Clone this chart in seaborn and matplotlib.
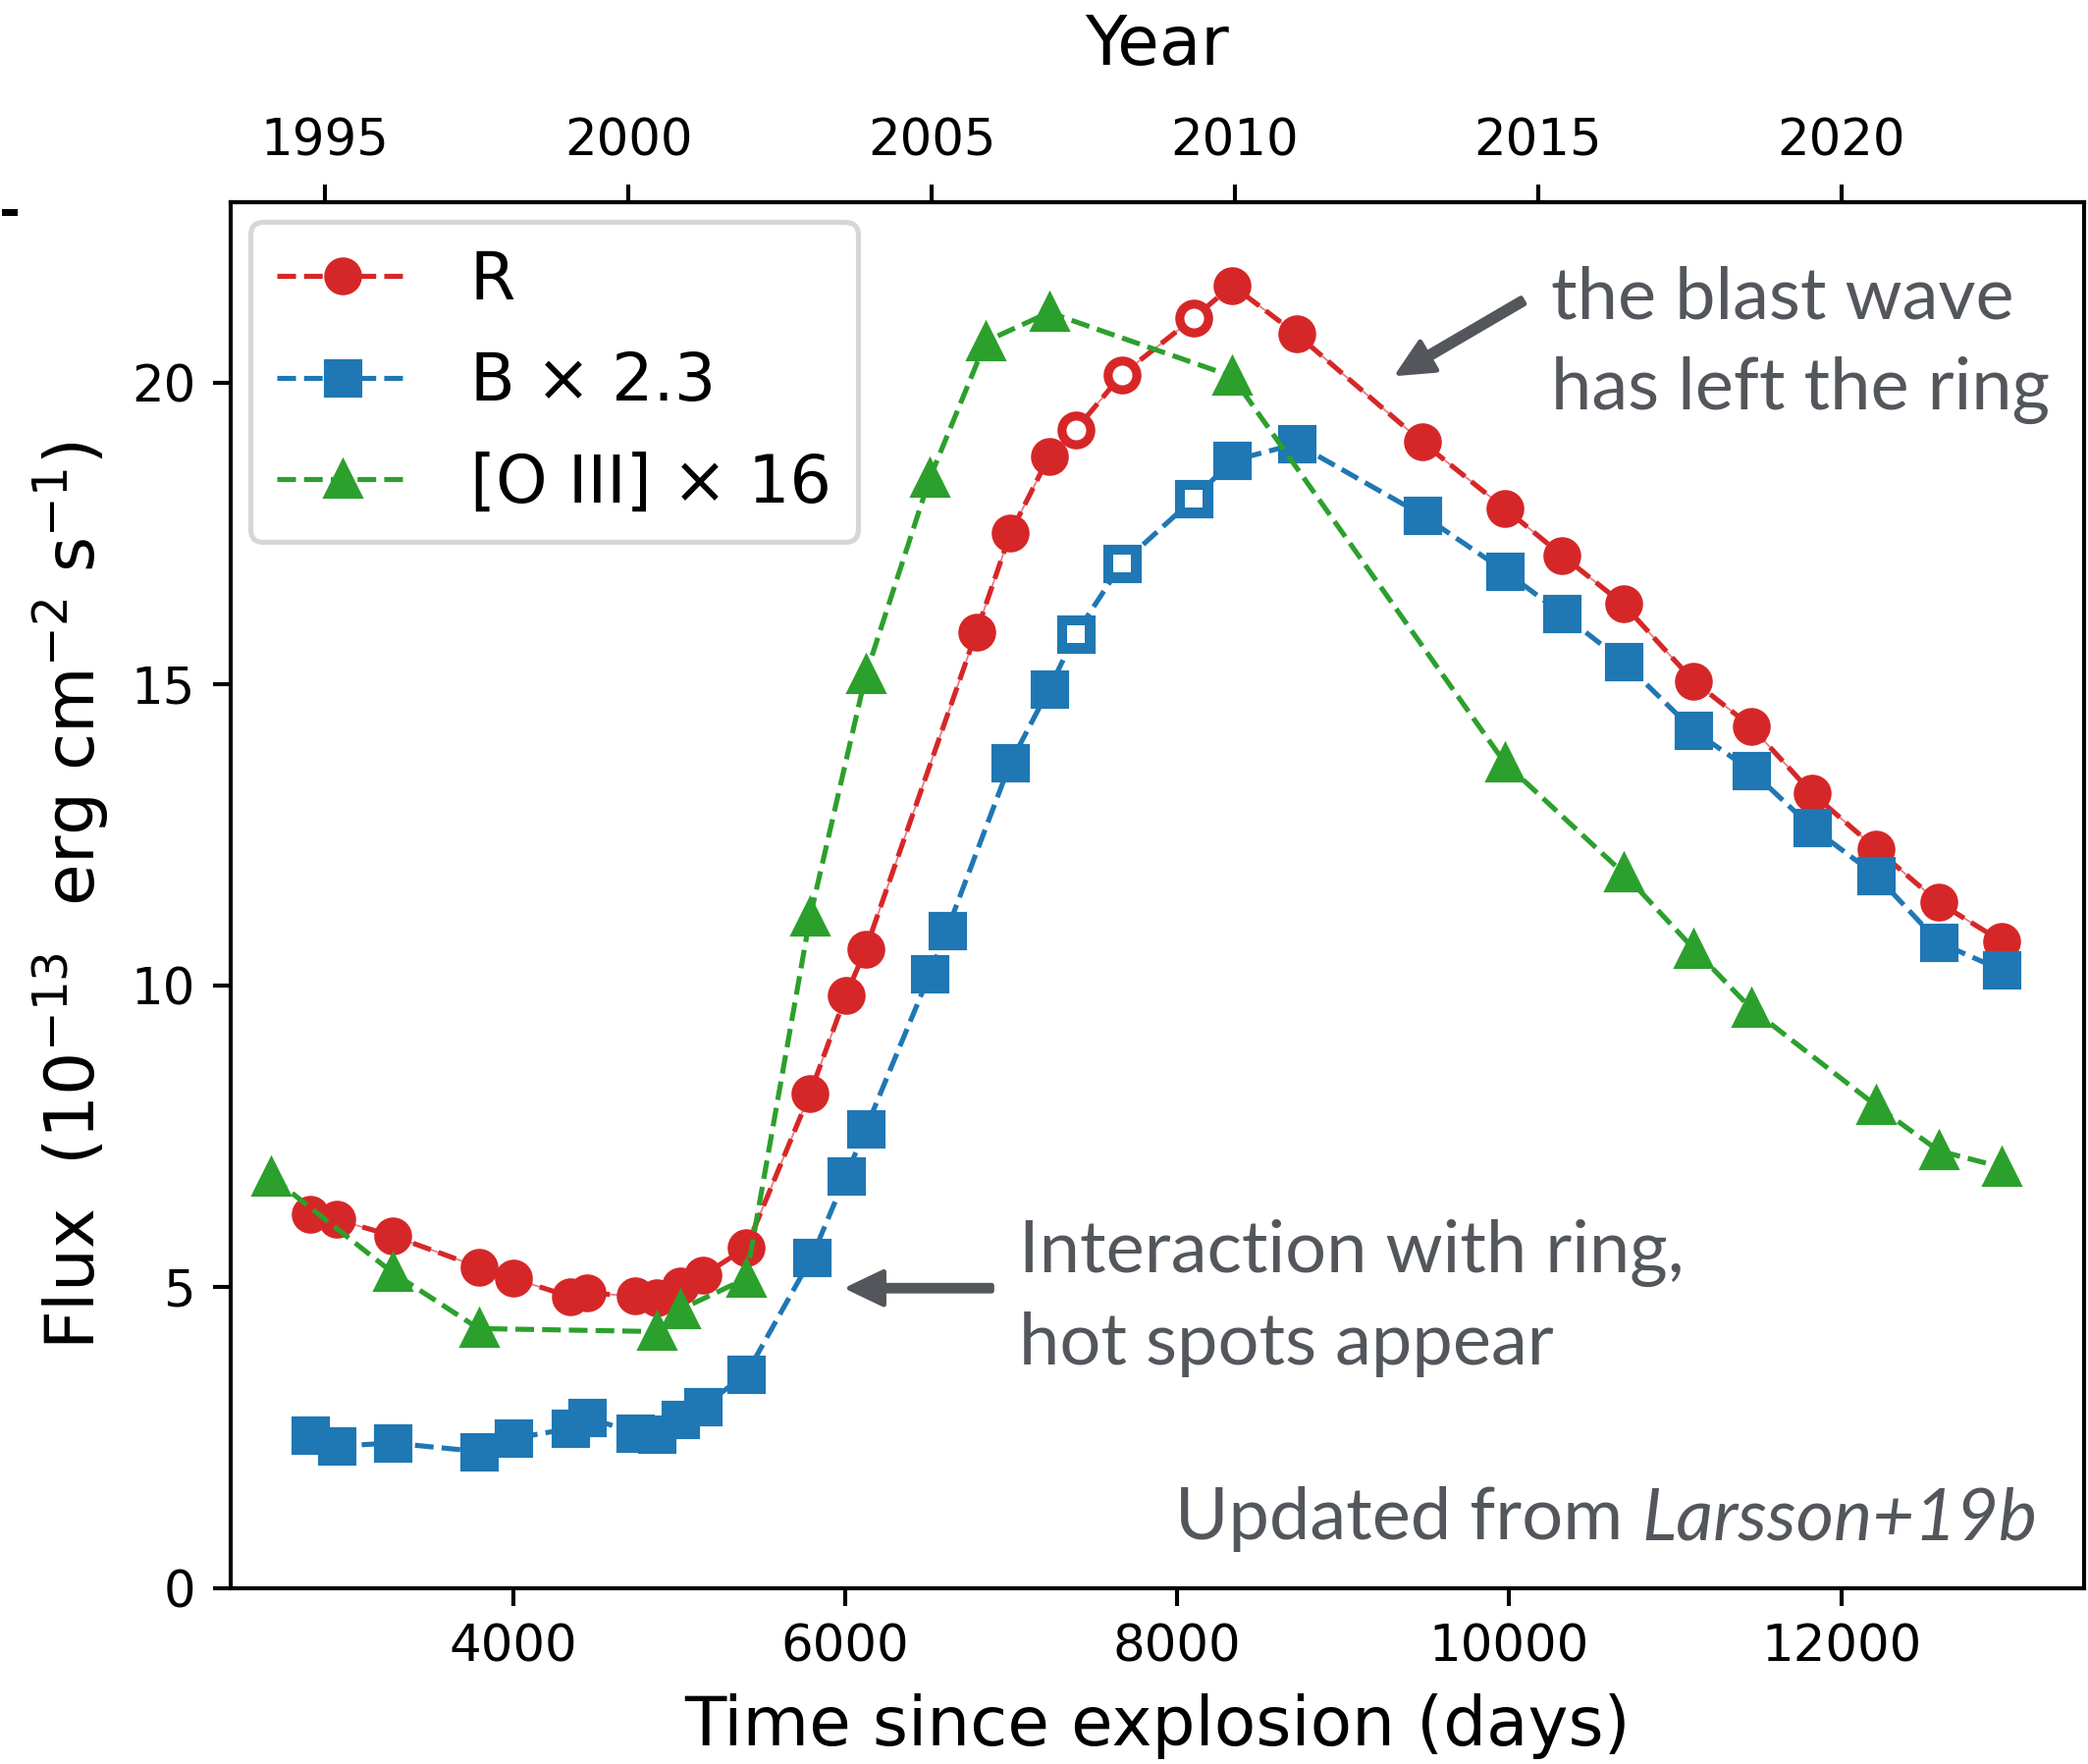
import numpy as np
import matplotlib
matplotlib.use("Agg")
import matplotlib.pyplot as plt
from matplotlib.patches import Rectangle
import seaborn as sns

# Light curves of the SN 1987A equatorial ring (days since explosion, flux in 1e-13 erg/cm^2/s)
r_days = [2780, 2936, 3274, 3793, 4005, 4343, 4444, 4733, 4866, 5010, 5143, 5404,
          5789, 6005, 6125, 6791, 6996, 7228, 7388, 7667, 8100, 8331, 8719,
          9475, 9972, 10317, 10686, 11111, 11456, 11824, 12209, 12586, 12962]
r_flux = [6.20, 6.12, 5.85, 5.33, 5.14, 4.84, 4.90, 4.85, 4.82, 5.01, 5.19, 5.65,
          8.21, 9.84, 10.61, 15.87, 17.51, 18.78, 19.22, 20.14, 21.08, 21.62, 20.81,
          19.02, 17.92, 17.14, 16.33, 15.05, 14.30, 13.19, 12.27, 11.38, 10.74]

b_days = [2780, 2936, 3274, 3793, 4005, 4343, 4444, 4733, 4866, 5010, 5143, 5404,
          5799, 6005, 6125, 6510, 6614, 6996, 7228, 7388, 7667, 8100, 8331, 8719,
          9475, 9972, 10317, 10686, 11111, 11456, 11824, 12209, 12586, 12962]
b_flux = [2.54, 2.36, 2.41, 2.27, 2.49, 2.65, 2.84, 2.58, 2.56, 2.80, 3.02, 3.55,
          5.49, 6.84, 7.63, 10.19, 10.92, 13.70, 14.92, 15.83, 17.00, 18.08, 18.71, 18.99,
          17.81, 16.88, 16.17, 15.38, 14.23, 13.57, 12.62, 11.83, 10.72, 10.26]

o3_days = [2544, 3274, 3793, 4866, 5010, 5404, 5789, 6125, 6510, 6848, 7228,
           8331, 9972, 10686, 11111, 11456, 12209, 12586, 12962]
o3_flux = [6.83, 5.24, 4.31, 4.26, 4.63, 5.14, 11.14, 15.16, 18.42, 20.69, 21.17,
           20.11, 13.70, 11.87, 10.61, 9.62, 8.01, 7.26, 6.99]

# epochs shown with open symbols
open_epochs = [7388, 7667, 8100]

series_labels = ["R", "B × 2.3", "[O III] × 16"]
day_ticks = [4000, 6000, 8000, 10000, 12000]
year_ticks = [1995, 2000, 2005, 2010, 2015, 2020]
flux_ticks = [0, 5, 10, 15, 20]
explosion_year = 1987.146  # 23 February 1987

plt.rcParams["font.family"] = ["DejaVu Sans"]
plt.rcParams["mathtext.fontset"] = "dejavusans"

DPI = 370
LABEL_SIZE = 13.5
LEGEND_SIZE = 13
ANN_SIZE = 14.4
fig = plt.figure(figsize=(2127 / DPI, 1797 / DPI), dpi=DPI)
ax = fig.add_axes([0.1105, 0.0996, 0.998 - 0.1105, 0.8854 - 0.0996])

pal = sns.color_palette("tab10")
red, blue, green = pal[3], pal[0], pal[2]

# faint continuous trace under the dashed R curve
sns.lineplot(x=r_days, y=r_flux, ax=ax, color=red, linewidth=0.35, alpha=0.6,
             errorbar=None)

handles = []
for days, flux, mk, col, lab in [(r_days, r_flux, "o", red, series_labels[0]),
                                 (b_days, b_flux, "s", blue, series_labels[1]),
                                 (o3_days, o3_flux, "^", green, series_labels[2])]:
    sns.lineplot(x=days, y=flux, ax=ax, color=col, marker=mk, markersize=6.5,
                 markeredgecolor=col, markeredgewidth=1.0, linestyle="--",
                 linewidth=1.0, errorbar=None, label=lab)
    handles.append(ax.lines[-1])

# open symbols
for days, flux, mk, size in [(r_days, r_flux, "o", 3.9), (b_days, b_flux, "s", 3.5)]:
    od = [d for d in days if d in open_epochs]
    of = [f for d, f in zip(days, flux) if d in open_epochs]
    ax.plot(od, of, linestyle="none", marker=mk, markersize=size,
            markerfacecolor="white", markeredgewidth=0, zorder=5)

ax.set_xlim(2300, 13460)
ax.set_ylim(0, 23)
ax.set_xticks(day_ticks)
ax.set_yticks(flux_ticks)
ax.set_xlabel("Time since explosion (days)", fontsize=LABEL_SIZE)
ax.set_ylabel(r"Flux  $(10^{-13}$  erg cm$^{-2}$ s$^{-1})$", fontsize=LABEL_SIZE)


def day_to_year(d):
    return explosion_year + np.asarray(d, dtype=float) / 365.25


def year_to_day(y):
    return (np.asarray(y, dtype=float) - explosion_year) * 365.25


sec = ax.secondary_xaxis("top", functions=(day_to_year, year_to_day))
sec.set_xticks(year_ticks)
sec.set_xlabel("Year", fontsize=LABEL_SIZE, labelpad=10.5)

leg = ax.legend(handles=handles, labels=series_labels, loc="upper left",
                fontsize=LEGEND_SIZE, borderaxespad=0.3, handletextpad=0.95,
                labelspacing=0.56)

# annotations
ann_color = "#53575c"
ann_font = dict(family="Lato", fontsize=ANN_SIZE, color=ann_color, va="baseline")
ax.text(10251, 21.07, "the blast wave", **ann_font)
ax.text(10251, 19.57, "has left the ring", **ann_font)
ax.annotate("", xy=(9335, 20.16), xytext=(10080, 21.36),
            arrowprops=dict(facecolor=ann_color, edgecolor=ann_color,
                            width=1.3, headwidth=6.5, headlength=6.8, shrink=0))

ax.text(7049, 5.24, "Interaction with ring,", **ann_font)
ax.text(7049, 3.72, "hot spots appear", **ann_font)
ax.annotate("", xy=(6027, 4.98), xytext=(6883, 4.98),
            arrowprops=dict(facecolor=ann_color, edgecolor=ann_color,
                            width=1.1, headwidth=6.5, headlength=6.8, shrink=0))

cite_it = ax.text(13179, 0.6, "Larsson+19b", family="Lato", style="italic",
                  fontsize=ANN_SIZE, color=ann_color, ha="right", va="bottom")
ax.annotate("Updated from ", xy=(0, 0), xycoords=cite_it, ha="right", va="bottom",
            family="Lato", fontsize=ANN_SIZE, color=ann_color)

# small mark at the left edge
fig.add_artist(Rectangle((2 / 2127, 1 - 220 / 1797), 16 / 2127, 7 / 1797,
                         transform=fig.transFigure, color="black", lw=0))

fig.savefig("out.png", dpi=DPI)
